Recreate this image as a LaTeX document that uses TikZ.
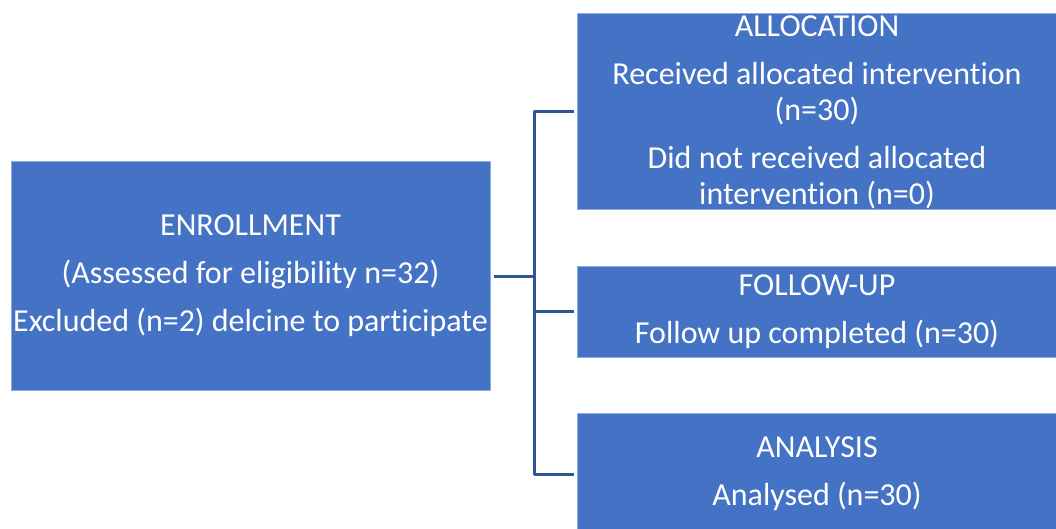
\documentclass[tikz,border=0pt]{standalone}
\usepackage{fontspec}
\setmainfont{Carlito}[Ligatures=NoCommon]
\definecolor{boxblue}{HTML}{4472C4}
\definecolor{boxedge}{HTML}{8FAADC}
\definecolor{linkblue}{HTML}{2F5597}
\begin{document}
\begin{tikzpicture}[x=1pt, y=-1pt, font=\fontsize{32}{36}\selectfont, line join=round,
  stage/.style={draw=boxedge, line width=1pt, fill=boxblue, text=white, align=center, inner sep=0pt},
  link/.style={draw=linkblue, line width=3pt}]
\useasboundingbox (0,0) rectangle (1056,529);
\clip (0,0) rectangle (1056,529);
\node[stage, minimum width=479pt, minimum height=229pt] (enrol) at (250.5,276) {ENROLLMENT\\[12pt](Assessed for eligibility n=32)\\[12pt]Excluded (n=2) delcine to participate};
\node[stage, minimum width=479pt, minimum height=196pt] (alloc) at (817,112) {ALLOCATION\\[12pt]Received allocated intervention\\(n=30)\\[12pt]Did not received allocated\\intervention (n=0)};
\node[stage, minimum width=479pt, minimum height=91pt] (follow) at (817,311.5) {FOLLOW-UP\\[12pt]Follow up completed (n=30)};
\node[stage, minimum width=479pt, minimum height=122pt] (analysis) at (817,474) {ANALYSIS\\[12pt]Analysed (n=30)};
\coordinate (fork) at (534,276);
\draw[link, shorten <=3pt] (enrol.east) -- (fork);
\draw[link, shorten <=3pt, shorten >=3pt] (alloc.west) -- (alloc.west -| fork) -- (analysis.west -| fork) -- (analysis.west);
\draw[link, shorten <=3pt] (follow.west) -- (follow.west -| fork);
\end{tikzpicture}
\end{document}
